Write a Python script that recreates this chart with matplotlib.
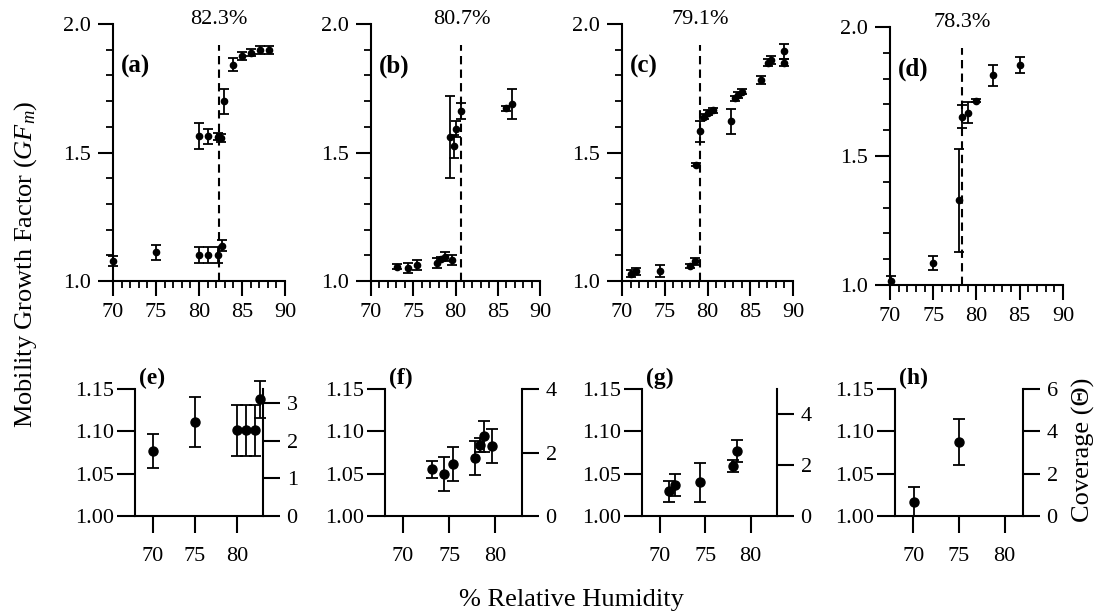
import matplotlib
matplotlib.use('Agg')
import matplotlib.pyplot as plt
from matplotlib.ticker import MultipleLocator, FormatStrFormatter

plt.rcParams['font.family'] = ['Liberation Serif', 'DejaVu Serif']
plt.rcParams['mathtext.fontset'] = 'custom'
plt.rcParams['mathtext.rm'] = 'Liberation Serif'
plt.rcParams['mathtext.it'] = 'Liberation Serif:italic'

# ---- data: lower branch (shown in top and bottom rows) ----
a_low_rh = [70, 75, 80, 81.1, 82.2, 82.7]
a_low_gf = [1.077, 1.111, 1.101, 1.101, 1.101, 1.138]
a_low_err = [0.02, 0.03, 0.03, 0.03, 0.03, 0.022]

b_low_rh = [73.1, 74.4, 75.4, 77.8, 78.3, 78.8, 79.6]
b_low_gf = [1.055, 1.050, 1.061, 1.069, 1.084, 1.094, 1.083]
b_low_err = [0.01, 0.02, 0.02, 0.02, 0.008, 0.018, 0.02]

c_low_rh = [71.0, 71.6, 74.4, 78.0, 78.5]
c_low_gf = [1.029, 1.037, 1.040, 1.059, 1.077]
c_low_err = [0.012, 0.013, 0.023, 0.007, 0.013]

d_low_rh = [70.1, 75.0]
d_low_gf = [1.017, 1.087]
d_low_err = [0.017, 0.027]

# ---- data: upper branch (top row only) ----
a_high_rh = [80.0, 81.1, 82.2, 82.6, 82.9, 84.0, 85.0, 86.0, 87.1, 88.1]
a_high_gf = [1.565, 1.563, 1.562, 1.556, 1.699, 1.841, 1.876, 1.889, 1.899, 1.899]
a_high_err = [0.05, 0.03, 0.015, 0.015, 0.05, 0.025, 0.015, 0.015, 0.015, 0.015]

b_high_rh = [79.3, 79.8, 80.1, 80.7, 86.0, 86.7]
b_high_gf = [1.56, 1.524, 1.591, 1.662, 1.672, 1.689]
b_high_err = [0.16, 0.045, 0.03, 0.03, 0.01, 0.06]

c_high_rh = [78.6, 79.1, 79.6, 80.1, 80.6, 82.7, 83.2, 83.6, 84.0, 86.2, 87.1, 87.4, 89.0, 89.0]
c_high_gf = [1.453, 1.582, 1.640, 1.655, 1.665, 1.621, 1.711, 1.724, 1.737, 1.783, 1.850, 1.860, 1.893, 1.850]
c_high_err = [0.005, 0.04, 0.01, 0.01, 0.01, 0.05, 0.01, 0.01, 0.01, 0.015, 0.015, 0.015, 0.03, 0.015]

d_high_rh = [78.0, 78.3, 79.0, 80.0, 81.9, 85.0]
d_high_gf = [1.329, 1.652, 1.668, 1.714, 1.813, 1.852]
d_high_err = [0.2, 0.045, 0.04, 0.005, 0.04, 0.03]

thresholds = [82.3, 80.7, 79.1, 78.3]
top_labels = ['(a)', '(b)', '(c)', '(d)']
bottom_labels = ['(e)', '(f)', '(g)', '(h)']
coverage_max = [3.37, 4, 5, 6]
coverage_ticks = [[0, 1, 2, 3], [0, 2, 4], [0, 2, 4], [0, 2, 4, 6]]

low_rh = [a_low_rh, b_low_rh, c_low_rh, d_low_rh]
low_gf = [a_low_gf, b_low_gf, c_low_gf, d_low_gf]
low_err = [a_low_err, b_low_err, c_low_err, d_low_err]
high_rh = [a_high_rh, b_high_rh, c_high_rh, d_high_rh]
high_gf = [a_high_gf, b_high_gf, c_high_gf, d_high_gf]
high_err = [a_high_err, b_high_err, c_high_err, d_high_err]

# ---- layout (pixels) ----
W, H = 1101, 615
top_x = [(113, 285), (371, 540), (622, 793), (890, 1063)]
top_y = [(24, 281), (24, 281), (24, 281), (27, 285)]
bot_x = [(135, 263), (385, 522), (642, 777), (895, 1023)]
bot_y = (389, 516)
bot_xlim = [(67.86, 83.1), (68.04, 82.9), (68.0, 82.9), (68.0, 82.0)]

fig = plt.figure(figsize=(W / 100, H / 100), dpi=100)


def px_axes(x0, x1, y0, y1):
    return fig.add_axes([x0 / W, 1 - y1 / H, (x1 - x0) / W, (y1 - y0) / H])


def draw_err(ax, x, y, e, ms, cap):
    c = ax.errorbar(x, y, yerr=e, fmt='o', color='black', ms=ms, capsize=cap,
                    elinewidth=1.3, capthick=1.3)
    for art in c.get_children():
        art.set_clip_on(False)


for i in range(4):
    ax = px_axes(*top_x[i], *top_y[i])
    draw_err(ax, low_rh[i], low_gf[i], low_err[i], 4.5, 3.5)
    draw_err(ax, high_rh[i], high_gf[i], high_err[i], 4.5, 3.5)
    thr = thresholds[i]
    ax.plot([thr, thr], [1.0, 1.92], color='black', lw=1.5, ls='--', dashes=(4, 2.5))
    ax.text(thr, 2.016, f'{thr}%', ha='center', va='center', fontsize=16)
    ax.text(0.045, 0.835, top_labels[i], transform=ax.transAxes, ha='left', va='center',
            fontsize=18, fontweight='bold')
    ax.set_xlim(70, 90)
    ax.set_ylim(1.0, 2.0)
    for s in ['top', 'right']:
        ax.spines[s].set_visible(False)
    for s in ['left', 'bottom']:
        ax.spines[s].set_linewidth(1.5)
    ax.xaxis.set_major_locator(MultipleLocator(5))
    ax.xaxis.set_minor_locator(MultipleLocator(1))
    ax.set_yticks([1.0, 1.5, 2.0])
    ax.yaxis.set_minor_locator(MultipleLocator(0.1))
    ax.yaxis.set_major_formatter(FormatStrFormatter('%.1f'))
    ax.tick_params(which='major', direction='out', length=11, width=1.5, labelsize=16, pad=5)
    ax.tick_params(which='minor', direction='out', length=5, width=1.3)

for i in range(4):
    ax = px_axes(*bot_x[i], *bot_y)
    draw_err(ax, low_rh[i], low_gf[i], low_err[i], 6.5, 4)
    ax.set_xlim(*bot_xlim[i])
    ax.set_ylim(1.0, 1.15)
    ax.set_xticks([70, 75, 80])
    ax.set_yticks([1.00, 1.05, 1.10, 1.15])
    ax.yaxis.set_major_formatter(FormatStrFormatter('%.2f'))
    for s in ['top', 'right']:
        ax.spines[s].set_visible(False)
    for s in ['left', 'bottom']:
        ax.spines[s].set_linewidth(1.5)
    ax.tick_params(axis='x', direction='out', length=12, width=1.5, labelsize=16, pad=10)
    ax.tick_params(axis='y', direction='out', length=13, width=1.5, labelsize=16, pad=2)
    ax.text(0.03, 1.0, bottom_labels[i], transform=ax.transAxes, ha='left', va='bottom',
            fontsize=17, fontweight='bold')

    tw = ax.twinx()
    tw.set_ylim(0, coverage_max[i])
    tw.set_yticks(coverage_ticks[i])
    for s in ['top', 'left', 'bottom']:
        tw.spines[s].set_visible(False)
    tw.spines['right'].set_linewidth(1.5)
    tw.tick_params(axis='y', direction='out', length=12, width=1.5, labelsize=16, pad=5)

fig.text(0.023, 0.57, 'Mobility Growth Factor ($GF_m$)', rotation=90, ha='center',
         va='center', fontsize=19)
fig.text(0.519, 0.024, '% Relative Humidity', ha='center', va='center', fontsize=19)
fig.text(0.984, 0.268, 'Coverage (Θ)', rotation=90, ha='center', va='center', fontsize=19)

fig.savefig('out.png', dpi=100)
